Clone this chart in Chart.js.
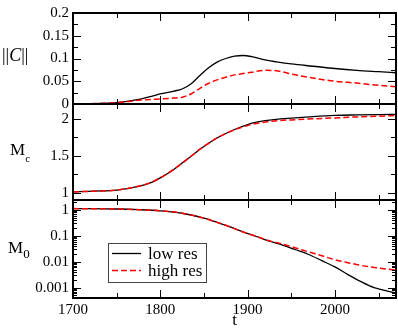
<!DOCTYPE html>
<html>
<head>
<meta charset="utf-8">
<script src="https://cdn.jsdelivr.net/npm/chart.js@4/dist/chart.umd.min.js"></script>
<style>
  html, body { margin: 0; padding: 0; background: #fff; }
  #wrap { position: relative; width: 398px; height: 328px; font-family: "Liberation Serif", serif; }
  #wrap canvas { position: absolute; left: 0; top: 0; }
  .ylab { position: absolute; font-size: 17px; line-height: 17px; color: #000; white-space: nowrap; }
</style>
</head>
<body>
<div id="wrap">
  <canvas id="c1" width="398" height="328"></canvas>
  <canvas id="c2" width="398" height="328"></canvas>
  <canvas id="c3" width="398" height="328"></canvas>
  <div class="ylab" style="left:2px; top:46px; font-size:18px; line-height:18px;">||<i>C</i>||</div>
  <div class="ylab" style="left:10px; top:141px;">M<span style="font-size:11px; position:relative; top:7px;">c</span></div>
  <div class="ylab" style="left:8px; top:239px;">M<span style="font-size:13px; position:relative; top:5px;">0</span></div>
</div>
<script>
// time samples for the two upper panels
const years = [1700, 1725, 1750, 1775, 1790, 1800, 1815, 1825, 1835, 1845, 1855, 1865,
  1875, 1885, 1895, 1905, 1920, 1935, 1950, 1975, 2000, 2025, 2050, 2070];
const normLow = [0, 0.001, 0.003, 0.010, 0.017, 0.022, 0.028, 0.033, 0.044, 0.062, 0.079, 0.092,
  0.100, 0.105, 0.1066, 0.104, 0.097, 0.092, 0.088, 0.083, 0.078, 0.074, 0.071, 0.0687];
const normHigh = [0, 0.001, 0.003, 0.008, 0.010, 0.011, 0.013, 0.015, 0.022, 0.034, 0.045, 0.053,
  0.059, 0.064, 0.067, 0.070, 0.074, 0.0725, 0.066, 0.057, 0.050, 0.046, 0.041, 0.038];
const mcLow = [1.01, 1.02, 1.035, 1.085, 1.14, 1.20, 1.31, 1.40, 1.49, 1.585, 1.665, 1.74,
  1.80, 1.855, 1.90, 1.94, 1.975, 1.995, 2.01, 2.03, 2.045, 2.052, 2.057, 2.06];
const mcHigh = [1.01, 1.02, 1.035, 1.085, 1.14, 1.20, 1.31, 1.40, 1.49, 1.585, 1.665, 1.74,
  1.80, 1.85, 1.89, 1.925, 1.955, 1.975, 1.985, 2.00, 2.012, 2.025, 2.035, 2.045];

// time samples for the bottom panel
const yearsM0 = [1700, 1750, 1775, 1800, 1825, 1850, 1865, 1880, 1895, 1910, 1925, 1940,
  1955, 1970, 1985, 2000, 2015, 2030, 2045, 2060, 2070];
const m0Low = [1.12, 1.08, 1.02, 0.92, 0.74, 0.48, 0.33, 0.22, 0.14, 0.094, 0.062, 0.044,
  0.029, 0.019, 0.011, 0.0063, 0.0032, 0.0017, 0.0010, 0.00074, 0.00063];
const m0High = [1.12, 1.08, 1.02, 0.92, 0.74, 0.48, 0.33, 0.22, 0.14, 0.095, 0.064, 0.048,
  0.034, 0.024, 0.017, 0.012, 0.0092, 0.0072, 0.0060, 0.0052, 0.0047];

const yearTicks = [1700, 1800, 1900, 2000];
const normTicks = [0, 0.05, 0.1, 0.15, 0.2];
const mcTicks = [1, 1.5, 2];
const m0Ticks = [0.001, 0.01, 0.1, 1];
const seriesNames = ['low res', 'high res'];

const FONT = '"Liberation Serif", serif';
const LEFT = 73, RIGHT = 396;

function pts(xs, ys) {
  return xs.map((x, i) => ({ x: x, y: ys[i] }));
}

function lineSets(xs, low, high) {
  return [
    { label: seriesNames[0], data: pts(xs, low), borderColor: '#000', borderWidth: 1.3,
      pointRadius: 0, cubicInterpolationMode: 'monotone', order: 1 },
    { label: seriesNames[1], data: pts(xs, high), borderColor: '#ff0000', borderWidth: 1.5,
      borderDash: [6, 3], pointRadius: 0, cubicInterpolationMode: 'monotone', order: 0 }
  ];
}

function steps(from, to, step) {
  let out = [];
  for (let v = from; v <= to + 1e-9; v += step) out.push(+v.toFixed(6));
  return out;
}

function logMinor(min, max) {
  let out = [];
  for (let e = -5; e <= 1; e++) {
    for (let m = 2; m <= 9; m++) {
      let v = m * Math.pow(10, e);
      if (v >= min && v <= max) out.push(v);
    }
  }
  return out;
}

// frame, inward ticks on all four sides, optional legend box
const frame = {
  id: 'frame',
  afterDatasetsDraw(chart, args, o) {
    const { ctx, chartArea: a } = chart;
    const x = chart.scales.x, y = chart.scales.y;
    ctx.save();
    ctx.strokeStyle = '#000';
    ctx.lineWidth = 1;
    ctx.beginPath();
    const vx = (v, len) => {
      const p = Math.round(x.getPixelForValue(v)) + 0.5;
      ctx.moveTo(p, a.top); ctx.lineTo(p, a.top + len);
      ctx.moveTo(p, a.bottom); ctx.lineTo(p, a.bottom - len);
    };
    const hy = (v, len) => {
      const p = Math.round(y.getPixelForValue(v)) + 0.5;
      ctx.moveTo(a.left, p); ctx.lineTo(a.left + len, p);
      ctx.moveTo(a.right, p); ctx.lineTo(a.right - len, p);
    };
    yearTicks.forEach(v => vx(v, 8));
    steps(1750, 2070, 100).forEach(v => vx(v, 5));
    o.yMajor.forEach(v => hy(v, 8));
    o.yMinor.forEach(v => hy(v, o.minorLen || 5));
    ctx.stroke();
    ctx.lineWidth = 2;
    ctx.strokeRect(a.left, a.top, a.right - a.left, a.bottom - a.top);

    if (o.legend) {
      const bx = a.left + 35, by = a.top + 43;
      ctx.fillStyle = '#fff';
      ctx.fillRect(bx, by, 98, 39);
      ctx.lineWidth = 1;
      ctx.strokeStyle = '#444';
      ctx.strokeRect(bx + 0.5, by + 0.5, 98, 39);
      ctx.font = '17px ' + FONT;
      ctx.textBaseline = 'alphabetic';
      chart.data.datasets.forEach((ds, i) => {
        const ly = by + 10.5 + i * 17;
        ctx.beginPath();
        ctx.strokeStyle = ds.borderColor;
        ctx.lineWidth = ds.borderWidth;
        ctx.setLineDash(ds.borderDash || []);
        ctx.moveTo(bx + 4, ly); ctx.lineTo(bx + 33, ly);
        ctx.stroke();
        ctx.setLineDash([]);
        ctx.fillStyle = '#000';
        ctx.fillText(ds.label, bx + 40, ly + 5);
      });
    }
    ctx.restore();
  }
};

function makeChart(id, cfg) {
  return new Chart(document.getElementById(id), {
    type: 'line',
    data: { datasets: cfg.datasets },
    options: {
      responsive: false,
      animation: false,
      layout: { padding: { left: 0, right: 398 - RIGHT, top: cfg.top, bottom: cfg.bottom } },
      plugins: {
        legend: { display: false },
        tooltip: { enabled: false },
        frame: cfg.frame
      },
      scales: {
        x: {
          type: 'linear', min: 1700, max: 2070,
          grid: { display: false, drawTicks: false },
          border: { display: false },
          afterBuildTicks: s => { s.ticks = yearTicks.map(v => ({ value: v })); },
          ticks: {
            display: cfg.showX, autoSkip: false, maxRotation: 0, padding: 3,
            color: '#000', font: { family: FONT, size: 15 },
            callback: v => String(v)
          },
          title: {
            display: cfg.showX, text: 't', color: '#000', padding: 0,
            font: { family: FONT, size: 17, lineHeight: 0.9 }
          },
          afterFit: s => { s.height = cfg.showX ? 30 : 0; }
        },
        y: Object.assign({
          grid: { display: false, drawTicks: false },
          border: { display: false },
          afterBuildTicks: s => { s.ticks = cfg.yTicks.map(v => ({ value: v })); },
          ticks: {
            autoSkip: false, padding: 4, color: '#000', font: { family: FONT, size: 15 },
            callback: v => String(v)
          },
          afterFit: s => { s.width = LEFT; }
        }, cfg.y)
      }
    },
    plugins: [frame]
  });
}

makeChart('c1', {
  datasets: lineSets(years, normLow, normHigh),
  top: 6, bottom: 328 - 104, showX: false,
  y: { type: 'linear', min: 0, max: 0.2 },
  yTicks: normTicks,
  frame: { yMajor: normTicks, yMinor: [0.025, 0.075, 0.125, 0.175] }
});

makeChart('c2', {
  datasets: lineSets(years, mcLow, mcHigh),
  top: 104, bottom: 328 - 200, showX: false,
  y: { type: 'linear', min: 0.9, max: 2.2 },
  yTicks: mcTicks,
  frame: { yMajor: mcTicks, yMinor: [1.25, 1.75] }
});

makeChart('c3', {
  datasets: lineSets(yearsM0, m0Low, m0High),
  top: 200, bottom: 0, showX: true,
  y: { type: 'logarithmic', min: 0.0004, max: 2.4 },
  yTicks: m0Ticks,
  frame: { yMajor: m0Ticks, yMinor: logMinor(0.0004, 2.4), minorLen: 4, legend: true }
});
</script>
</body>
</html>
